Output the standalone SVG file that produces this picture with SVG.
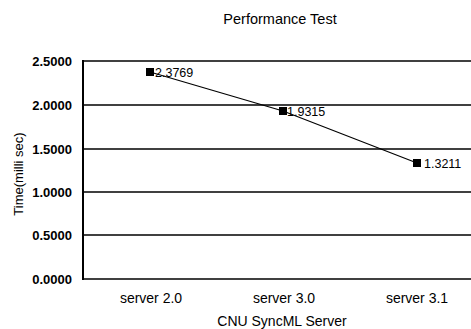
<svg xmlns="http://www.w3.org/2000/svg" width="471" height="329" viewBox="0 0 471 329">
<style>
text{font-family:"Liberation Sans",Arial,sans-serif;fill:#000}
.tick{font-size:13px;text-anchor:end;font-weight:bold}
.cat{font-size:14px;text-anchor:middle}
.val{font-size:12.5px}
.grid{stroke:#000;stroke-width:1.5}
</style>
<rect width="471" height="329" fill="#fff"/>
<text x="280" y="24" font-size="14.5" text-anchor="middle">Performance Test</text>
<g id="axes">
<line class="grid" x1="83" y1="61" x2="471" y2="61"/>
<line class="grid" x1="83" y1="105" x2="471" y2="105"/>
<line class="grid" x1="83" y1="149" x2="471" y2="149"/>
<line class="grid" x1="83" y1="192" x2="471" y2="192"/>
<line class="grid" x1="83" y1="235" x2="471" y2="235"/>
<line class="grid" x1="83" y1="279" x2="471" y2="279"/>
<line x1="83" y1="60" x2="83" y2="280" stroke="#000" stroke-width="2"/>
<text class="tick" x="72" y="66">2.5000</text>
<text class="tick" x="72" y="110">2.0000</text>
<text class="tick" x="72" y="154">1.5000</text>
<text class="tick" x="72" y="197">1.0000</text>
<text class="tick" x="72" y="240">0.5000</text>
<text class="tick" x="72" y="284">0.0000</text>
<text class="cat" x="151" y="303">server 2.0</text>
<text class="cat" x="284" y="303">server 3.0</text>
<text class="cat" x="417" y="303">server 3.1</text>
<text class="cat" x="282" y="326">CNU SyncML Server</text>
<text transform="translate(23,174) rotate(-90)" font-size="13" text-anchor="middle">Time(milli sec)</text>
</g>
<g id="connectors">
<polyline points="150,72 283,111 417,163" fill="none" stroke="#000" stroke-width="1.2"/>
</g>
<g id="p1"><rect x="146" y="68" width="8" height="8" fill="#000"/><text class="val" x="155" y="77">2.3769</text></g>
<g id="p2"><rect x="279" y="107" width="8" height="8" fill="#000"/><text class="val" x="287" y="116">1.9315</text></g>
<g id="p3"><rect x="413" y="159" width="8" height="8" fill="#000"/><text class="val" x="424" y="168">1.3211</text></g>
</svg>
